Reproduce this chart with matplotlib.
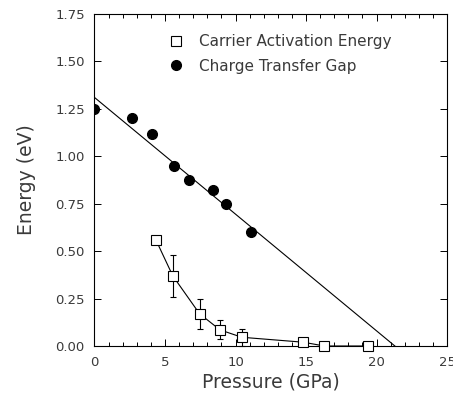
import numpy as np
import matplotlib
matplotlib.use("Agg")
import matplotlib.pyplot as plt
from matplotlib.ticker import MultipleLocator, FormatStrFormatter
from matplotlib.lines import Line2D

# charge transfer gap (filled circles)
gap_p = [0.0, 2.65, 4.05, 5.65, 6.7, 8.4, 9.35, 11.1]
gap_e = [1.25, 1.20, 1.12, 0.95, 0.875, 0.82, 0.75, 0.60]

# carrier activation energy (open squares)
act_p = [4.35, 5.55, 7.45, 8.9, 10.45, 14.8, 16.3, 19.4]
act_e = [0.56, 0.37, 0.17, 0.085, 0.046, 0.02, 0.0, 0.0]
act_err = [0.0, 0.11, 0.08, 0.05, 0.045, 0.0, 0.0, 0.0]

# linear fit line end points
fit_p = [0.0, 21.3]
fit_e = [1.31, 0.0]

plt.rcParams['font.family'] = ['DejaVu Sans']
txt = '#3a3a3a'

fig = plt.figure(figsize=(4.53, 3.93), dpi=100)
ax = fig.add_axes([0.2086, 0.1196, 0.7782, 0.8448])

ax.plot(fit_p, fit_e, color='black', lw=0.8, zorder=2)
ax.plot(gap_p, gap_e, 'o', color='black', ms=7, zorder=3)
ax.errorbar(act_p, act_e, yerr=act_err, fmt='s-', color='black', lw=0.8,
            ms=6.5, mfc='white', mec='black', mew=0.8, elinewidth=0.8,
            capsize=2.5, capthick=0.8, zorder=3, clip_on=False)

ax.set_xlim(0, 25)
ax.set_ylim(0, 1.75)
ax.xaxis.set_major_locator(MultipleLocator(5))
ax.xaxis.set_minor_locator(MultipleLocator(1))
ax.yaxis.set_major_locator(MultipleLocator(0.25))
ax.yaxis.set_major_formatter(FormatStrFormatter('%.2f'))
ax.tick_params(which='both', direction='in', top=True, right=True,
               labelsize=9.5, labelcolor=txt, width=0.7, pad=7)
ax.tick_params(which='major', length=5)
ax.tick_params(which='minor', length=3)
for s in ax.spines.values():
    s.set_linewidth(0.8)

ax.set_xlabel('Pressure (GPa)', fontsize=13.5, color=txt, labelpad=3)
ax.set_ylabel('Energy (eV)', fontsize=13.5, color=txt, labelpad=14)

handles = [
    Line2D([], [], ls='none', marker='s', ms=6.5, mfc='white', mec='black', mew=0.8),
    Line2D([], [], ls='none', marker='o', ms=7, color='black'),
]
labels = ['Carrier Activation Energy', 'Charge Transfer Gap']
ax.legend(handles, labels, loc='upper left', bbox_to_anchor=(0.17, 0.98),
          frameon=False, fontsize=11, labelcolor=txt, handlelength=1.0,
          handletextpad=1.0, labelspacing=0.6)

fig.savefig('out.png', dpi=100)
